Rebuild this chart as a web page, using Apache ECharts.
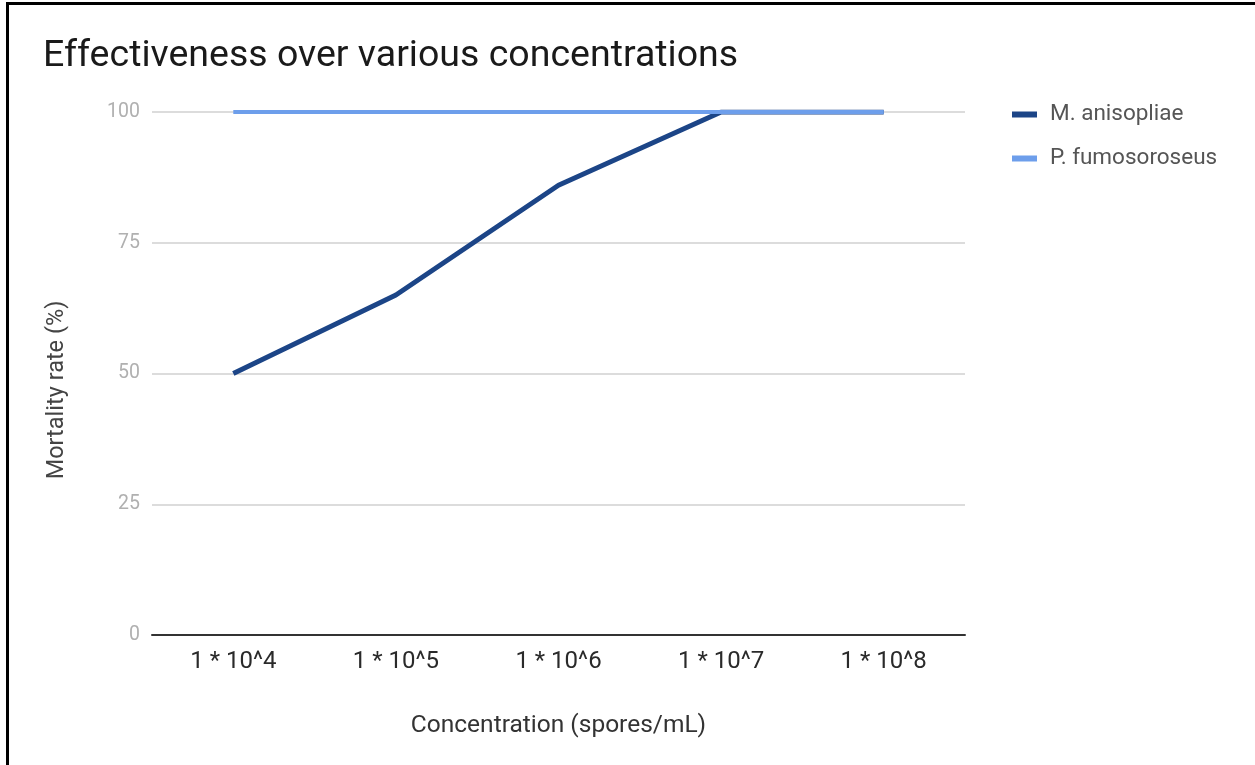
<!DOCTYPE html>
<html>
<head>
<meta charset="utf-8">
<script src="https://cdn.jsdelivr.net/npm/echarts@6/dist/echarts.min.js"></script>
<style>
  html, body { margin: 0; padding: 0; background: #fff; }
  #frame { position: absolute; left: 0; top: 0; width: 1255px; height: 765px; box-sizing: border-box;
           border-left: 3px solid #000; border-top: 3px solid #000; margin-left: 6px; margin-top: 2px; }
  #chart { position: absolute; left: 0; top: 0; width: 1255px; height: 765px; }
</style>
</head>
<body>
<div id="frame"></div>
<div id="chart"></div>
<script>
// Spore concentrations tested
const concentrations = ['1 * 10^4', '1 * 10^5', '1 * 10^6', '1 * 10^7', '1 * 10^8'];
// Mortality rate (%) per fungus
const mAnisopliae = [50, 65, 86, 100, 100];
const pFumosoroseus = [100, 100, 100, 100, 100];
// Y-axis tick values
const yTicks = [0, 25, 50, 75, 100];

const chart = echarts.init(document.getElementById('chart'));
const font = 'Roboto, "Noto Sans", sans-serif';

chart.setOption({
  animation: false,
  backgroundColor: 'transparent',
  title: {
    text: 'Effectiveness over various concentrations',
    left: 38, top: 33,
    textStyle: { fontFamily: font, fontSize: 37.5, fontWeight: 'normal', color: '#1a1a1a' }
  },
  legend: {
    orient: 'vertical',
    left: 1007, top: 98,
    itemWidth: 25, itemHeight: 6, itemGap: 21,
    icon: 'rect',
    textStyle: { fontFamily: font, fontSize: 22.5, color: '#555', padding: [0, 0, 0, 8] },
    data: ['M. anisopliae', 'P. fumosoroseus']
  },
  graphic: [{
    type: 'text',
    x: 57, y: 390,
    rotation: Math.PI / 2,
    style: {
      text: 'Mortality rate (%)',
      fontFamily: font, fontSize: 23.5, fill: '#444',
      align: 'center', verticalAlign: 'middle'
    }
  }],
  grid: { left: 152, right: 290, top: 112, bottom: 130 },
  xAxis: {
    type: 'category',
    data: concentrations,
    boundaryGap: true,
    name: 'Concentration (spores/mL)',
    nameLocation: 'middle',
    nameGap: 78,
    nameTextStyle: { fontFamily: font, fontSize: 24.5, color: '#333' },
    axisLine: { lineStyle: { color: '#333', width: 2 } },
    axisTick: { show: false },
    axisLabel: { fontFamily: font, fontSize: 24, color: '#2a2a2a', margin: 15 }
  },
  yAxis: {
    type: 'value',
    min: yTicks[0], max: yTicks[yTicks.length - 1], interval: 25,
    axisLine: { show: false },
    axisTick: { show: false },
    axisLabel: { fontFamily: font, fontSize: 19.5, color: '#b0b0b0', margin: 12 },
    splitLine: { lineStyle: { color: '#dcdcdc', width: 2 } }
  },
  series: [
    {
      name: 'M. anisopliae', type: 'line', data: mAnisopliae,
      symbol: 'none', color: '#1c4587',
      lineStyle: { width: 5, color: '#1c4587' }, z: 2
    },
    {
      name: 'P. fumosoroseus', type: 'line', data: pFumosoroseus,
      symbol: 'none', color: '#6d9eeb',
      lineStyle: { width: 4, color: '#6d9eeb' }, z: 3
    }
  ]
});
</script>
</body>
</html>
